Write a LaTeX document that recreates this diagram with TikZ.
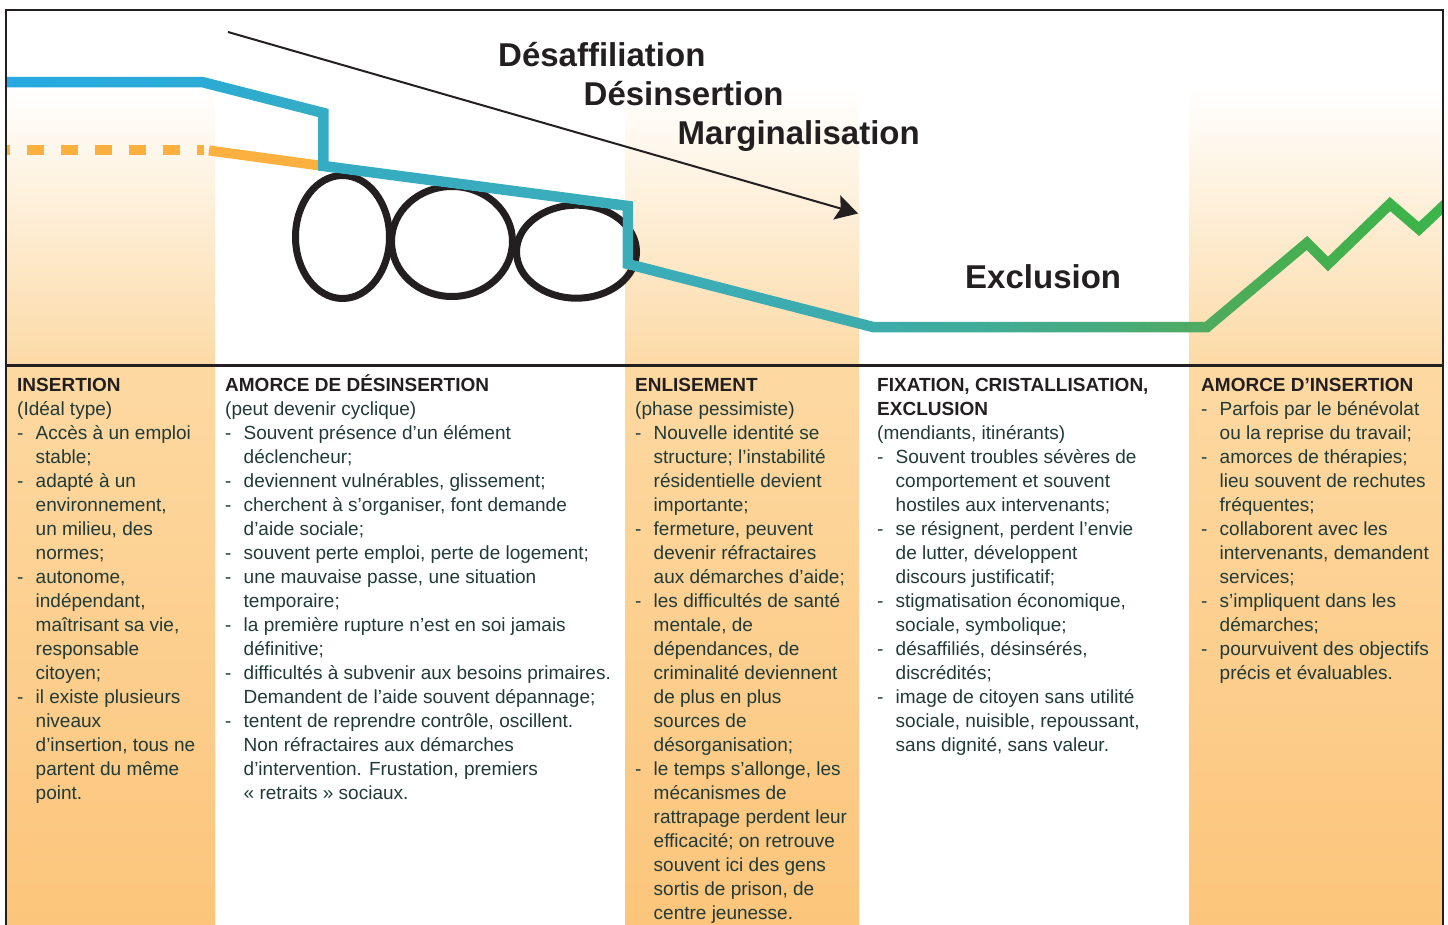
\documentclass[tikz,border=0pt]{standalone}
\usepackage{fontspec}
\setmainfont{Liberation Sans}
\usetikzlibrary{arrows.meta,fadings}

\definecolor{ink}{HTML}{231F20}
\definecolor{bodyink}{HTML}{213A37}
\definecolor{paleorange}{HTML}{FCDAA6}
\definecolor{lightorange}{HTML}{FDD9A2}
\definecolor{deeporange}{HTML}{FCC57B}
\definecolor{dashorange}{HTML}{FBB040}
% colours along the trajectory, from left to right
\definecolor{tra}{HTML}{27A9E1}
\definecolor{trb}{HTML}{2AABD5}
\definecolor{trc}{HTML}{35ACC2}
\definecolor{trd}{HTML}{3BADBA}
\definecolor{tre}{HTML}{3DACAC}
\definecolor{trf}{HTML}{40AC9C}
\definecolor{trg}{HTML}{47AB7E}
\definecolor{trh}{HTML}{4FAB5E}
\definecolor{tri}{HTML}{45AF4F}
\definecolor{trj}{HTML}{3AB54A}

\pgfdeclarehorizontalshading{track}{100bp}{color(0bp)=(tra); color(25bp)=(tra);
  color(31.75bp)=(trb); color(36.27bp)=(trc); color(46.37bp)=(trd);
  color(55.06bp)=(tre); color(58.19bp)=(trf); color(63.06bp)=(trg);
  color(66.79bp)=(trh); color(70.72bp)=(tri); color(75bp)=(trj); color(100bp)=(trj)}

\tikzset{x=1pt, y=-1pt}

% the life-course trajectory
\newcommand{\trackpath}{(0,82) -- (202,82) -- (323.5,113) -- (323.5,166) -- (628,206)
  -- (628,264) -- (873,327) -- (1207,327) -- (1307,243) -- (1328,264) -- (1390,204)
  -- (1419,229) -- (1452,198)}

% mask of the trajectory; the box is centred on the origin of the page
\begin{tikzfadingfrompicture}[name=trackfade]
  \useasboundingbox (-1500,-500) rectangle (1500,500);
  \draw[white, line width=10.5pt, line join=miter] \trackpath;
\end{tikzfadingfrompicture}

\newcommand{\itemdash}{\makebox[18.5pt][l]{-}}
\newcommand{\itemcont}{\hspace*{18.5pt}}
\newcommand{\firstline}{\rule{0pt}{18pt}}

\begin{document}
\begin{tikzpicture}[
  frame/.style={draw=ink, line width=2.6pt, line join=miter},
  loop/.style={draw=ink, line width=7pt},
  stage/.style={font=\bfseries\fontsize{33}{33}\selectfont, text=ink, anchor=base west, inner sep=0pt},
  col/.style={anchor=north west, inner sep=0pt, align=left, text=bodyink, font=\fontsize{19}{24}\selectfont},
  shadetop/.style={top color=white, bottom color=paleorange},
  shadebottom/.style={top color=lightorange, bottom color=deeporange},
  dashline/.style={draw=dashorange, line width=10pt},
]
\useasboundingbox (0,0) rectangle (1448,925);

% shaded phase columns
\foreach \xa/\xb in {6/215, 625/859, 1189/1443} {
  \shade[shadetop] (\xa,88) rectangle (\xb,365);
  \shade[shadebottom] (\xa,365) rectangle (\xb,925);
}

% the three loops of the cyclic phase
\draw[loop] (342.5,237) ellipse [x radius=47, y radius=61.5];
\draw[loop] (452,241.5) ellipse [x radius=60.5, y radius=55];
\draw[loop] (576.5,251.7) ellipse [x radius=60, y radius=46.5];

% the lower starting level
\coordinate (lowA) at (6,150);
\coordinate (lowB) at (204,150);
\coordinate (lowC) at (209,150.5);
\coordinate (lowD) at (323,166);
\draw[dashline, dash pattern=on 17pt off 17pt, dash phase=13pt] (lowA) -- (lowB);
\draw[dashline] (lowC) -- (lowD);

% trajectory, coloured from blue to green
\shade[shading=track, path fading=trackfade, fit fading=false] (6,10) rectangle (1443,365);

% process arrow
\coordinate (arrowtail) at (228,32);
\coordinate (arrowtip) at (858,213.5);
\draw[ink, line width=2pt, -{Stealth[length=22pt, width=25pt, inset=4pt]}] (arrowtail) -- (arrowtip);

\node[stage] (desaff) at (498,67) {Désaffiliation};
\node[stage] (desins) at (583.5,106) {Désinsertion};
\node[stage] (margin) at (677.5,145) {Marginalisation};
\node[stage] (exclu) at (965,288) {Exclusion};

% phase descriptions
\node[col] (insertion) at (17,373) {\firstline\textbf{\color{ink}INSERTION}\\
(Idéal type)\\
\itemdash Accès à un emploi\\
\itemcont stable;\\
\itemdash adapté à un\\
\itemcont environnement,\\
\itemcont un milieu, des\\
\itemcont normes;\\
\itemdash autonome,\\
\itemcont indépendant,\\
\itemcont maîtrisant sa vie,\\
\itemcont responsable\\
\itemcont citoyen;\\
\itemdash il existe plusieurs\\
\itemcont niveaux\\
\itemcont d’insertion, tous ne\\
\itemcont partent du même\\
\itemcont point.};

\node[col] (amorcedes) at (225,373) {\firstline\textbf{\color{ink}AMORCE DE DÉSINSERTION}\\
(peut devenir cyclique)\\
\itemdash Souvent présence d’un élément\\
\itemcont déclencheur;\\
\itemdash deviennent vulnérables, glissement;\\
\itemdash cherchent à s’organiser, font demande\\
\itemcont d’aide sociale;\\
\itemdash souvent perte emploi, perte de logement;\\
\itemdash une mauvaise passe, une situation\\
\itemcont temporaire;\\
\itemdash la première rupture n’est en soi jamais\\
\itemcont définitive;\\
\itemdash difficultés à subvenir aux besoins primaires.\\
\itemcont Demandent de l’aide souvent dépannage;\\
\itemdash tentent de reprendre contrôle, oscillent.\\
\itemcont Non réfractaires aux démarches\\
\itemcont d’intervention. Frustation, premiers\\
\itemcont « retraits » sociaux.};

\node[col] (enlisement) at (635,373) {\firstline\textbf{\color{ink}ENLISEMENT}\\
(phase pessimiste)\\
\itemdash Nouvelle identité se\\
\itemcont structure; l’instabilité\\
\itemcont résidentielle devient\\
\itemcont importante;\\
\itemdash fermeture, peuvent\\
\itemcont devenir réfractaires\\
\itemcont aux démarches d’aide;\\
\itemdash les difficultés de santé\\
\itemcont mentale, de\\
\itemcont dépendances, de\\
\itemcont criminalité deviennent\\
\itemcont de plus en plus\\
\itemcont sources de\\
\itemcont désorganisation;\\
\itemdash le temps s’allonge, les\\
\itemcont mécanismes de\\
\itemcont rattrapage perdent leur\\
\itemcont efficacité; on retrouve\\
\itemcont souvent ici des gens\\
\itemcont sortis de prison, de\\
\itemcont centre jeunesse.};

\node[col] (fixation) at (877,373) {\firstline\textbf{\color{ink}FIXATION, CRISTALLISATION,}\\
\textbf{\color{ink}EXCLUSION}\\
(mendiants, itinérants)\\
\itemdash Souvent troubles sévères de\\
\itemcont comportement et souvent\\
\itemcont hostiles aux intervenants;\\
\itemdash se résignent, perdent l’envie\\
\itemcont de lutter, développent\\
\itemcont discours justificatif;\\
\itemdash stigmatisation économique,\\
\itemcont sociale, symbolique;\\
\itemdash désaffiliés, désinsérés,\\
\itemcont discrédités;\\
\itemdash image de citoyen sans utilité\\
\itemcont sociale, nuisible, repoussant,\\
\itemcont sans dignité, sans valeur.};

\node[col] (amorceins) at (1201,373) {\firstline\textbf{\color{ink}AMORCE D’INSERTION}\\
\itemdash Parfois par le bénévolat\\
\itemcont ou la reprise du travail;\\
\itemdash amorces de thérapies;\\
\itemcont lieu souvent de rechutes\\
\itemcont fréquentes;\\
\itemdash collaborent avec les\\
\itemcont intervenants, demandent\\
\itemcont services;\\
\itemdash s’impliquent dans les\\
\itemcont démarches;\\
\itemdash pourvuivent des objectifs\\
\itemcont précis et évaluables.};

% outer frame and separator
\draw[frame] (6,925) -- (6,10) -- (1443,10) -- (1443,925);
\draw[frame] (6,365.5) -- (1443,365.5);
\end{tikzpicture}
\end{document}
